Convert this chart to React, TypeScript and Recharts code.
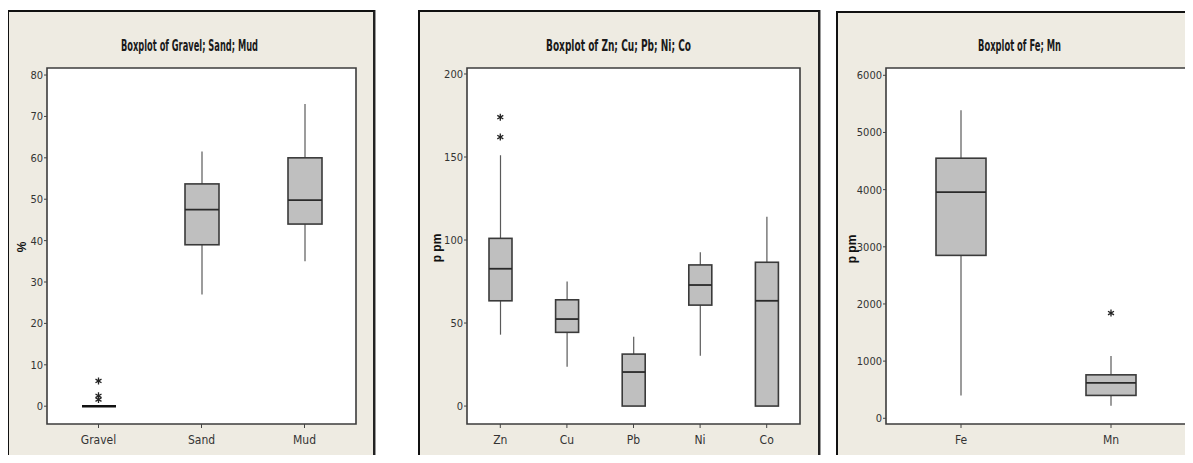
import { Bar, CartesianGrid, ComposedChart, Line, ReferenceArea, XAxis, YAxis } from 'recharts';

// Gravel / Sand / Mud (%)
const sedimentNames = ['Gravel', 'Sand', 'Mud'];
const sedimentMin = [0, 27, 35];
const sedimentQ1 = [0, 39, 44];
const sedimentMedian = [0, 47.5, 49.8];
const sedimentQ3 = [0, 53.7, 60];
const sedimentMax = [0, 61.5, 73];
const sedimentOutliers = [[6.1, 2.5, 1.6], [], []];
const sedimentTicks = [0, 10, 20, 30, 40, 50, 60, 70, 80];

// Zn / Cu / Pb / Ni / Co (ppm)
const metalNames = ['Zn', 'Cu', 'Pb', 'Ni', 'Co'];
const metalMin = [43, 23.7, 0, 30.3, 0];
const metalQ1 = [63.4, 44.4, 0, 60.8, 0];
const metalMedian = [82.7, 52.4, 20.5, 72.9, 63.4];
const metalQ3 = [101, 64, 31.3, 85, 86.6];
const metalMax = [151, 75, 41.8, 92.6, 114];
const metalOutliers = [[174, 162], [], [], [], []];
const metalTicks = [0, 50, 100, 150, 200];

// Fe / Mn (ppm)
const ironNames = ['Fe', 'Mn'];
const ironMin = [400, 220];
const ironQ1 = [2850, 400];
const ironMedian = [3955, 620];
const ironQ3 = [4550, 760];
const ironMax = [5390, 1090];
const ironOutliers = [[], [1840]];
const ironTicks = [0, 1000, 2000, 3000, 4000, 5000, 6000];

const font = '"Liberation Sans Narrow", "DejaVu Sans Condensed", "Roboto Condensed", Arial, sans-serif';

const buildRows = (
  names: string[],
  min: number[],
  q1: number[],
  median: number[],
  q3: number[],
  max: number[],
  outliers: number[][],
) =>
  names.map((name, i) => ({
    name,
    whisker: [min[i], max[i]],
    min: min[i],
    q1: q1[i],
    median: median[i],
    q3: q3[i],
    max: max[i],
    o1: outliers[i][0] ?? null,
    o2: outliers[i][1] ?? null,
    o3: outliers[i][2] ?? null,
  }));

const sedimentRows = buildRows(sedimentNames, sedimentMin, sedimentQ1, sedimentMedian, sedimentQ3, sedimentMax, sedimentOutliers);
const metalRows = buildRows(metalNames, metalMin, metalQ1, metalMedian, metalQ3, metalMax, metalOutliers);
const ironRows = buildRows(ironNames, ironMin, ironQ1, ironMedian, ironQ3, ironMax, ironOutliers);

// bar spans min..max, the rest is placed inside that scaled span
const BoxShape = (props: any) => {
  const { x, y, width, height, payload } = props;
  if (x == null || y == null || !payload) return <g />;
  const top = Math.min(y, y + height);
  const span = Math.abs(height);
  const range = payload.max - payload.min;
  const py = (v: number) => (range === 0 ? top : top + ((payload.max - v) / range) * span);
  const cx = x + width / 2;
  const boxTop = py(payload.q3);
  const boxBottom = py(payload.q1);
  const flat = boxBottom - boxTop <= 0;
  return (
    <g>
      <line x1={cx} x2={cx} y1={py(payload.max)} y2={boxTop} stroke="#5a5a5a" strokeWidth={1.2} />
      <line x1={cx} x2={cx} y1={boxBottom} y2={py(payload.min)} stroke="#5a5a5a" strokeWidth={1.2} />
      {!flat && (
        <rect x={x} y={boxTop} width={width} height={boxBottom - boxTop} fill="#bfbfbf" stroke="#3a3a3a" strokeWidth={1.6} />
      )}
      <line
        x1={x}
        x2={x + width}
        y1={py(payload.median)}
        y2={py(payload.median)}
        stroke={flat ? '#111' : '#2a2a2a'}
        strokeWidth={flat ? 2.6 : 1.8}
      />
    </g>
  );
};

const StarDot = (props: any) => {
  const { cx, cy, value, index } = props;
  if (value == null || cx == null || cy == null) return <g key={`e-${index}`} />;
  const d = `M${cx} ${cy - 3.5}V${cy + 3.5}M${cx - 3} ${cy - 1.8}L${cx + 3} ${cy + 1.8}M${cx - 3} ${cy + 1.8}L${cx + 3} ${cy - 1.8}`;
  return <path key={`s-${index}`} d={d} stroke="#222" strokeWidth={1.3} fill="none" />;
};

interface BoxPanelProps {
  rows: ReturnType<typeof buildRows>;
  width: number;
  yWidth: number;
  right: number;
  domain: [number, number];
  ticks: number[];
  barSize: number;
}

const BoxPanel = ({ rows, width, yWidth, right, domain, ticks, barSize }: BoxPanelProps) => (
  <ComposedChart width={width} height={452} data={rows} margin={{ top: 57, right, bottom: 9, left: 0 }}>
    <CartesianGrid fill="#ffffff" horizontal={false} vertical={false} />
    <XAxis
      dataKey="name"
      height={30}
      interval={0}
      axisLine={false}
      tickLine={{ stroke: '#444' }}
      tickSize={4}
      tickMargin={7}
      tick={{ fill: '#333', fontSize: 12, fontFamily: font }}
    />
    <YAxis
      type="number"
      domain={domain}
      ticks={ticks}
      allowDataOverflow
      width={yWidth}
      axisLine={false}
      tickLine={{ stroke: '#444' }}
      tickSize={3}
      tickMargin={1}
      tick={{ fill: '#333', fontSize: 11, fontFamily: font }}
    />
    <ReferenceArea y1={domain[0]} y2={domain[1]} fill="none" stroke="#3c3c3c" strokeWidth={1.6} ifOverflow="visible" />
    <Bar dataKey="whisker" barSize={barSize} shape={<BoxShape />} isAnimationActive={false} />
    <Line dataKey="o1" stroke="none" dot={StarDot} activeDot={false} isAnimationActive={false} />
    <Line dataKey="o2" stroke="none" dot={StarDot} activeDot={false} isAnimationActive={false} />
    <Line dataKey="o3" stroke="none" dot={StarDot} activeDot={false} isAnimationActive={false} />
  </ComposedChart>
);

const frameStyle = (left: number, top: number, width: number): React.CSSProperties => ({
  position: 'absolute',
  left,
  top,
  width,
  height: 470,
  boxSizing: 'border-box',
  background: '#eeebe2',
  borderTop: '2px solid #111',
  borderLeft: '2px solid #111',
  borderRight: '2px solid #222',
  boxShadow: '1px 0 0 #999',
});

const at = (left: number, top: number): React.CSSProperties => ({ position: 'absolute', left, top });

export default function App() {
  return (
    <div style={{ position: 'relative', width: 1193, height: 463, overflow: 'hidden', background: '#fff', margin: -8 }}>
      <div style={frameStyle(7, 10, 368)} />
      <div style={frameStyle(418, 10, 402)} />
      <div style={frameStyle(836, 11, 400)} />

      <div style={at(7, 11)}>
        <BoxPanel rows={sedimentRows} width={367} yWidth={40} right={18} domain={[-4.3, 81.7]} ticks={sedimentTicks} barSize={34} />
      </div>
      <div style={at(418, 11)}>
        <BoxPanel rows={metalRows} width={402} yWidth={49} right={20} domain={[-10.8, 203.6]} ticks={metalTicks} barSize={23} />
      </div>
      <div style={at(837, 11)}>
        <BoxPanel rows={ironRows} width={356} yWidth={49} right={7} domain={[-100, 6128]} ticks={ironTicks} barSize={50} />
      </div>

      <svg width={1193} height={463} style={{ position: 'absolute', left: 0, top: 0, pointerEvents: 'none' }}>
        <g fontFamily={font} fontWeight="bold" fill="#1a1a1a">
          <text x={121} y={51} fontSize={16} textLength={137} lengthAdjust="spacingAndGlyphs">
            Boxplot of Gravel; Sand; Mud
          </text>
          <text x={546} y={51} fontSize={16} textLength={145} lengthAdjust="spacingAndGlyphs">
            Boxplot of Zn; Cu; Pb; Ni; Co
          </text>
          <text x={978} y={51} fontSize={16} textLength={83} lengthAdjust="spacingAndGlyphs">
            Boxplot of Fe; Mn
          </text>
        </g>
        <g fontFamily="Arial, 'Liberation Sans', sans-serif" fontWeight="bold" fill="#111" fontSize={12} textAnchor="middle">
          <text transform="translate(26 247) rotate(-90)">%</text>
          <text transform="translate(441 248) rotate(-90)">p pm</text>
          <text transform="translate(856 249) rotate(-90)">p pm</text>
        </g>
      </svg>
    </div>
  );
}
